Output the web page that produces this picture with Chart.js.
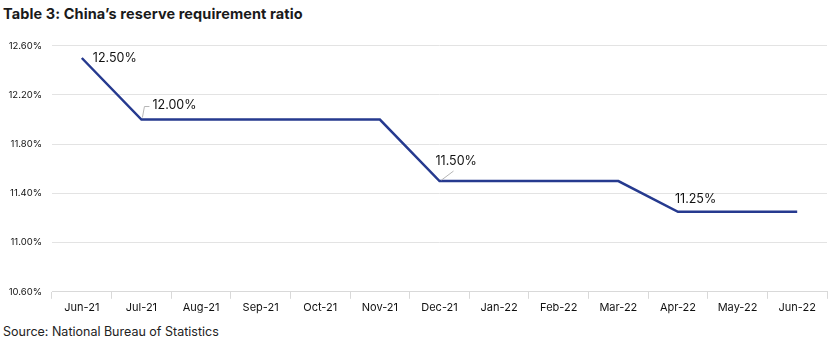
<!DOCTYPE html>
<html>
<head>
<meta charset="utf-8">
<title>Table 3: China's reserve requirement ratio</title>
<style>
  body { margin: 0; background: #fff; font-family: Inter, "Open Sans", sans-serif; }
  .wrap { position: relative; width: 830px; height: 346px; overflow: hidden; }
  .title { position: absolute; left: 3px; top: 5px; font-size: 14.5px; font-weight: 700; color: #1a1a1a; letter-spacing: 0.1px; }
  .chart { position: absolute; left: 0; top: 30px; width: 830px; height: 286px; }
  .source { position: absolute; left: 3px; top: 324px; font-size: 12.5px; color: #222; }
</style>
</head>
<body>
<div class="wrap">
  <div class="title">Table 3: China’s reserve requirement ratio</div>
  <div class="chart"><canvas id="rrr"></canvas></div>
  <div class="source">Source: National Bureau of Statistics</div>
</div>
<script src="https://cdn.jsdelivr.net/npm/chart.js"></script>
<script>
const months = ['Jun-21', 'Jul-21', 'Aug-21', 'Sep-21', 'Oct-21', 'Nov-21', 'Dec-21',
  'Jan-22', 'Feb-22', 'Mar-22', 'Apr-22', 'May-22', 'Jun-22'];
const ratio = [12.5, 12.0, 12.0, 12.0, 12.0, 12.0, 11.5, 11.5, 11.5, 11.5, 11.25, 11.25, 11.25];

// points that get a value label: index, text offset, and whether a leader line is drawn
const labelled = [
  { i: 0, dx: 11, dy: 0, leader: false },
  { i: 1, dx: 11, dy: -14, leader: true },
  { i: 6, dx: -4, dy: -20, leader: true },
  { i: 10, dx: -3, dy: -13, leader: false }
];

const LINE = '#263a8f';

const valueLabels = {
  id: 'valueLabels',
  afterDatasetsDraw(chart) {
    const { ctx, scales: { x, y } } = chart;
    ctx.save();
    ctx.font = '12.5px Inter, "Open Sans", sans-serif';
    ctx.fillStyle = '#111';
    ctx.textBaseline = 'middle';
    ctx.textAlign = 'left';
    labelled.forEach(l => {
      const px = x.getPixelForValue(l.i);
      const py = y.getPixelForValue(ratio[l.i]);
      const tx = px + l.dx;
      const ty = py + l.dy;
      if (l.leader) {
        ctx.strokeStyle = '#b5b5b5';
        ctx.lineWidth = 1;
        ctx.beginPath();
        if (l.i === 1) {
          ctx.moveTo(px + 1, py - 2);
          ctx.lineTo(px + 3, ty + 1);
          ctx.lineTo(px + 8, ty + 1);
        } else {
          ctx.moveTo(px + 2, py - 1);
          ctx.lineTo(px + 14, py - 10);
        }
        ctx.stroke();
      }
      ctx.fillText(ratio[l.i].toFixed(2) + '%', tx, ty);
    });
    ctx.restore();
  }
};

new Chart(document.getElementById('rrr'), {
  type: 'line',
  data: {
    labels: months,
    datasets: [{
      data: ratio,
      borderColor: LINE,
      borderWidth: 2.5,
      pointRadius: 0,
      tension: 0,
      fill: false
    }]
  },
  options: {
    responsive: true,
    maintainAspectRatio: false,
    animation: false,
    layout: { padding: { top: 6, right: 3, left: 0, bottom: 0 } },
    plugins: {
      legend: { display: false },
      tooltip: { enabled: false }
    },
    scales: {
      x: {
        offset: true,
        grid: { offset: true, drawOnChartArea: false, drawTicks: true, tickLength: 7, color: '#d9d9d9' },
        border: { color: '#d9d9d9' },
        ticks: { color: '#111', font: { size: 11, family: 'Inter, "Open Sans", sans-serif' }, padding: 2, maxRotation: 0 }
      },
      y: {
        min: 10.6,
        max: 12.6,
        afterFit(scale) { scale.width = 52; },
        grid: { color: '#e3e3e3', drawTicks: false },
        border: { display: false },
        ticks: {
          stepSize: 0.4,
          padding: 10,
          color: '#111',
          font: { size: 9.5, family: 'Inter, "Open Sans", sans-serif' },
          callback: v => v.toFixed(2) + '%'
        }
      }
    }
  },
  plugins: [valueLabels]
});
</script>
</body>
</html>
